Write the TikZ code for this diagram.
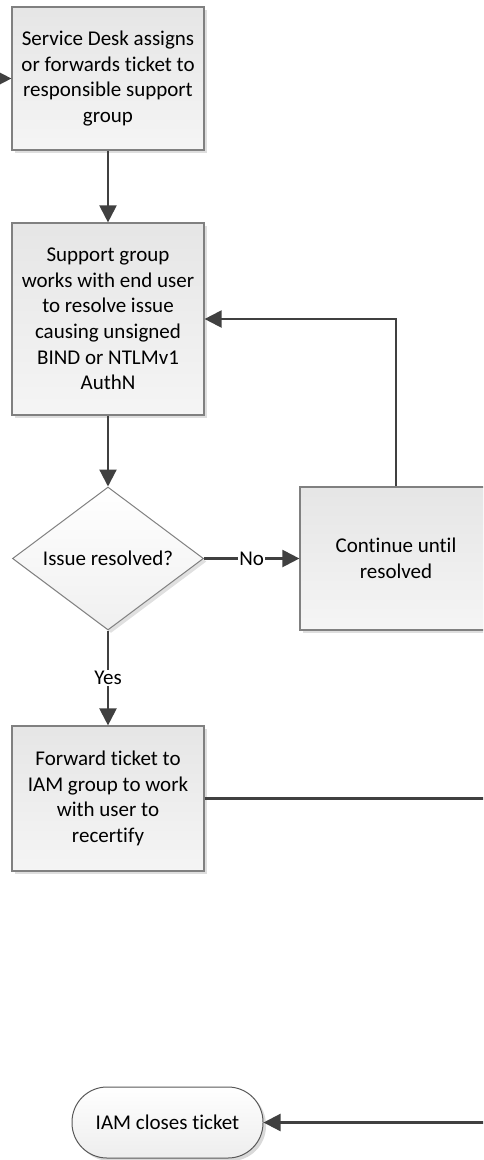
\documentclass[tikz,border=0pt]{standalone}
\usepackage{fontspec}
\setmainfont[Ligatures=NoCommon]{Carlito}
\usetikzlibrary{positioning,shapes.geometric,shadows,arrows.meta}
\newcommand{\flowfont}{\fontsize{21}{25.6}\selectfont}
\tikzset{box/.style={rectangle,draw=black!50,line width=1.2pt,top color=black!10,bottom color=black!4,
  minimum width=192pt,align=center,font=\flowfont,inner sep=2pt,
  drop shadow={shadow xshift=3pt,shadow yshift=-3pt,opacity=1,fill=black!13}}}
\tikzset{decision/.style={diamond,draw=black!50,line width=1pt,top color=white,bottom color=black!6,
  minimum width=191pt,minimum height=143pt,inner sep=0pt,aspect=1.34,font=\flowfont,
  drop shadow={shadow xshift=3pt,shadow yshift=-3pt,opacity=1,fill=black!12}}}
\tikzset{terminal/.style={rectangle,rounded corners=35pt,draw=black!65,line width=1pt,top color=white,bottom color=black!7,
  minimum width=191pt,minimum height=71pt,font=\flowfont,
  drop shadow={shadow xshift=3pt,shadow yshift=-3pt,opacity=1,fill=black!15}}}
\tikzset{flow/.style={-{Triangle[length=17pt,width=17pt]},line width=2.2pt,draw=black!75}}
\tikzset{flowline/.style={line width=2.2pt,draw=black!75}}
\tikzset{lbl/.style={fill=white,inner sep=1pt,font=\flowfont}}

\begin{document}
\begin{tikzpicture}[x=1pt,y=-1pt]
  \useasboundingbox (0,0) rectangle (483,1160);
  \clip (0,0) rectangle (483,1160);

  % process steps
  \node[box,minimum height=143pt] (svc) at (108,78.5)
    {Service Desk assigns\\or forwards ticket to\\responsible support\\group};
  \node[box,minimum height=192pt] (work) at (108,319)
    {Support group\\works with end user\\to resolve issue\\causing unsigned\\BIND or NTLMv1\\AuthN};
  \node[decision] (dec) at (108,558.5) {Issue resolved?};
  \node[box,minimum height=143pt] (cont) at (396,558.5) {Continue until\\resolved};
  \node[box,minimum height=145pt] (fwd) at (108,798.5)
    {Forward ticket to\\IAM group to work\\with user to\\recertify};
  \node[terminal] (close) at (167.5,1122.5) {IAM closes ticket};

  % off-page ends
  \coordinate (svcin) at (-10,78.5);
  \coordinate (fwdout) at (495,798.5);
  \coordinate (closein) at (495,1122.5);

  % connectors
  \draw[flow] (svcin) -- (svc.west);
  \draw[flow] (svc) -- (work);
  \draw[flow] (work) -- (dec);
  \draw[flow] (dec.east) -- node[lbl] {No} (cont.west);
  \draw[flow] (cont.north) |- (work.east);
  \draw[flow] (dec.south) -- node[lbl] {Yes} (fwd.north);
  \draw[flowline] (fwd.east) -- (fwdout);
  \draw[flow] (closein) -- (close.east);
\end{tikzpicture}
\end{document}
